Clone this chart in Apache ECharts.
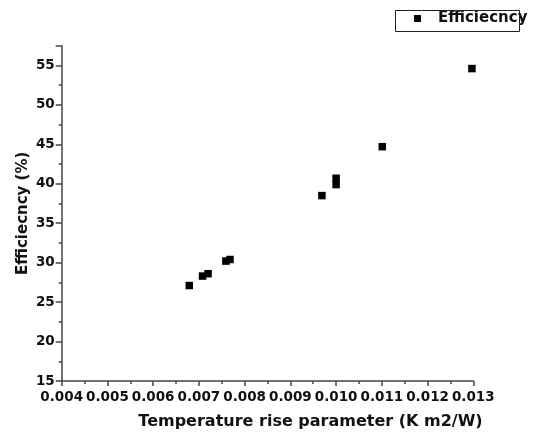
<!DOCTYPE html>
<html>
<head>
<meta charset="utf-8">
<script src="https://cdn.jsdelivr.net/npm/echarts@6/dist/echarts.min.js"></script>
<style>html,body{margin:0;padding:0;background:#fff;}#c{width:538px;height:432px;}</style>
</head>
<body>
<div id="c"></div>
<script>
var seriesName = 'Efficiecncy';
var tempRise = [0.00679, 0.00708, 0.0072, 0.00759, 0.00768, 0.00969, 0.0100, 0.0100, 0.01101, 0.01297];
var efficiency = [27.1, 28.3, 28.6, 30.2, 30.4, 38.5, 39.9, 40.7, 44.7, 54.6];
var xAxisName = 'Temperature rise parameter (K m2/W)';
var yAxisName = 'Efficiecncy (%)';

var points = tempRise.map(function (x, i) { return [x, efficiency[i]]; });
var font = 'DejaVu Sans';
var chart = echarts.init(document.getElementById('c'), null, {renderer: 'canvas'});
chart.setOption({
  animation: false,
  backgroundColor: '#fff',
  grid: {left: 61.7, right: 64.7, top: 45.7, bottom: 51, containLabel: false, outerBoundsMode: 'none'},
  legend: {
    data: [seriesName],
    left: 414, top: 11, padding: 0,
    icon: 'rect', itemWidth: 7, itemHeight: 7,
    itemStyle: {color: '#000', opacity: 1},
    textStyle: {fontFamily: font, fontWeight: 'bold', fontSize: 15, color: '#111', padding: [0, 0, 0, 12]}
  },
  graphic: [{
    type: 'rect', left: 393, top: 8,
    shape: {width: 124, height: 21},
    style: {fill: 'none', stroke: '#222', lineWidth: 1},
    z: 100
  }],
  xAxis: {
    type: 'value', min: 0.004, max: 0.013, interval: 0.001,
    name: xAxisName, nameLocation: 'middle', nameGap: 33, nameMoveOverlap: false,
    nameTextStyle: {fontFamily: font, fontWeight: 'bold', fontSize: 16, color: '#111', padding: [0, 0, 0, 86]},
    axisLine: {lineStyle: {color: '#444', width: 1.5}},
    axisTick: {length: 5, lineStyle: {color: '#444', width: 1.5}},
    minorTick: {show: true, splitNumber: 2, length: 3, lineStyle: {color: '#444', width: 1.5}},
    splitLine: {show: false},
    axisLabel: {fontFamily: font, fontWeight: 'bold', fontSize: 13.5, color: '#111', margin: 9,
      formatter: function (v) { return v.toFixed(3); }}
  },
  yAxis: {
    type: 'value', min: 15, max: 57.5, interval: 5,
    name: yAxisName, nameLocation: 'middle', nameGap: 31, nameMoveOverlap: false,
    nameTextStyle: {fontFamily: font, fontWeight: 'bold', fontSize: 15, color: '#111'},
    axisLine: {lineStyle: {color: '#444', width: 1.5}},
    axisTick: {length: 6, lineStyle: {color: '#444', width: 1.5}},
    minorTick: {show: true, splitNumber: 2, length: 3, lineStyle: {color: '#444', width: 1.5}},
    splitLine: {show: false},
    axisLabel: {fontFamily: font, fontWeight: 'bold', fontSize: 13.5, color: '#111', margin: 7,
      showMaxLabel: false}
  },
  series: [{
    name: seriesName, type: 'scatter', symbol: 'rect', symbolSize: 7.5,
    itemStyle: {color: '#000', opacity: 1},
    data: points
  }]
});
</script>
</body>
</html>
